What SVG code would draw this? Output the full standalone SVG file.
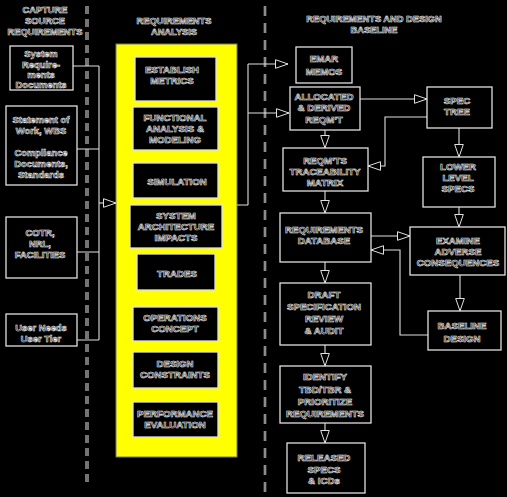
<svg xmlns="http://www.w3.org/2000/svg" width="507" height="497" viewBox="0 0 507 497">
<defs>
<style>
.t{font-family:"Liberation Sans",Arial,sans-serif;font-weight:bold;font-size:9.7px;fill:#000;stroke:#ececec;stroke-width:0.6px;text-anchor:middle}
.s{font-size:9.4px}
.h{font-size:9.3px}
.box{fill:#000;stroke:#e0e0e0;stroke-width:1.3}
.ln{fill:none;stroke:#e0e0e0;stroke-width:1.1}
.dash1{fill:none;stroke:#e8e8e8;stroke-width:3;stroke-dasharray:8 5}
.dash2{fill:none;stroke:#000;stroke-width:1;stroke-dasharray:8 5}
</style>
<marker id="ah" markerUnits="userSpaceOnUse" markerWidth="15" markerHeight="11" refX="13.5" refY="5.5" orient="auto">
<path d="M1,1.2 L13.5,5.5 L1,9.8 Z" fill="#000" stroke="#e0e0e0" stroke-width="1"/>
</marker>
</defs>
<rect x="0" y="0" width="507" height="497" fill="#000"/>

<g id="dividers">
<line class="dash1" x1="87" y1="6" x2="87" y2="482"/>
<line class="dash2" x1="87" y1="6" x2="87" y2="482"/>
<line class="dash1" x1="265" y1="6" x2="265" y2="492" style="stroke-width:2.4;stroke-dasharray:10 7"/>
<line class="dash2" x1="265" y1="6" x2="265" y2="492" style="stroke-width:0.8;stroke-dasharray:10 7"/>
</g>

<g id="headers">
<text class="t h" x="45" y="13">CAPTURE</text>
<text class="t h" x="45" y="24">SOURCE</text>
<text class="t h" x="45" y="35">REQUIREMENTS</text>
<text class="t h" x="174" y="24">REQUIREMENTS</text>
<text class="t h" x="174" y="35">ANALYSIS</text>
<text class="t h" x="374" y="22">REQUIREMENTS AND DESIGN</text>
<text class="t h" x="374" y="33">BASELINE</text>
</g>

<g id="yellow-panel">
<rect x="116" y="44" width="121" height="413" fill="#ffff00" stroke="#777" stroke-width="1"/>
</g>

<g id="connectors">
<path class="ln" d="M73,66 H99 M77,149 H99 M77,252 H99 M77,340 H99 M99,66 V340"/>
<path class="ln" d="M99,203 H116" marker-end="url(#ah)"/>
<path class="ln" d="M237,205 H248 M248,64 V205"/>
<path class="ln" d="M248,64 H288" marker-end="url(#ah)"/>
<path class="ln" d="M248,113 H289" marker-end="url(#ah)"/>
<path class="ln" d="M360,99 H427" marker-end="url(#ah)"/>
<path class="ln" d="M325,130 V148" marker-end="url(#ah)"/>
<path class="ln" d="M427,117 H385 V166 H368" marker-end="url(#ah)"/>
<path class="ln" d="M459,128 V157" marker-end="url(#ah)"/>
<path class="ln" d="M325,191 V213" marker-end="url(#ah)"/>
<path class="ln" d="M459,207 V227" marker-end="url(#ah)"/>
<path class="ln" d="M371,236 H410" marker-end="url(#ah)"/>
<path class="ln" d="M428,335 H400 V250 H371" marker-end="url(#ah)"/>
<path class="ln" d="M460,275 V311" marker-end="url(#ah)"/>
<path class="ln" d="M325,262 V283" marker-end="url(#ah)"/>
<path class="ln" d="M325,345 V366" marker-end="url(#ah)"/>
<path class="ln" d="M325,423 V443" marker-end="url(#ah)"/>
</g>

<g id="n-system-req">
<rect class="box" x="10" y="46" width="63" height="44"/>
<text class="t s" x="41" y="57">System</text>
<text class="t s" x="41" y="67.5">Require-</text>
<text class="t s" x="41" y="78">ments</text>
<text class="t s" x="41" y="88">Documents</text>
</g>
<g id="n-sow">
<rect class="box" x="6" y="106" width="71" height="79"/>
<text class="t s" x="41" y="123">Statement of</text>
<text class="t s" x="41" y="133.5">Work, WBS</text>
<text class="t s" x="41" y="156">Compliance</text>
<text class="t s" x="41" y="167">Documents,</text>
<text class="t s" x="41" y="178">Standards</text>
</g>
<g id="n-cotr">
<rect class="box" x="6" y="217" width="71" height="61"/>
<text class="t s" x="40" y="236">COTR,</text>
<text class="t s" x="40" y="247">NRL,</text>
<text class="t s" x="40" y="257.5">FACILITIES</text>
</g>
<g id="n-user">
<rect class="box" x="6" y="314" width="71" height="32"/>
<text class="t s" x="41" y="331">User Needs</text>
<text class="t s" x="41" y="342">User Tier</text>
</g>

<g id="n-metrics">
<rect class="box" x="135" y="57" width="81" height="44"/>
<text class="t" x="172" y="73">ESTABLISH</text>
<text class="t" x="172" y="84">METRICS</text>
</g>
<g id="n-functional">
<rect class="box" x="133" y="107" width="85" height="43"/>
<text class="t" x="175" y="121">FUNCTIONAL</text>
<text class="t" x="175" y="132">ANALYSIS &amp;</text>
<text class="t" x="175" y="143">MODELING</text>
</g>
<g id="n-simulation">
<rect class="box" x="133" y="163" width="85" height="35"/>
<text class="t" x="177" y="185">SIMULATION</text>
</g>
<g id="n-architecture">
<rect class="box" x="130" y="205" width="92" height="43"/>
<text class="t" x="176" y="219">SYSTEM</text>
<text class="t" x="176" y="230">ARCHITECTURE</text>
<text class="t" x="176" y="241">IMPACTS</text>
</g>
<g id="n-trades">
<rect class="box" x="137" y="254" width="78" height="36"/>
<text class="t" x="177" y="277">TRADES</text>
</g>
<g id="n-operations">
<rect class="box" x="133" y="307" width="85" height="34"/>
<text class="t" x="175" y="321">OPERATIONS</text>
<text class="t" x="175" y="332">CONCEPT</text>
</g>
<g id="n-constraints">
<rect class="box" x="133" y="352" width="85" height="36"/>
<text class="t" x="175" y="367">DESIGN</text>
<text class="t" x="175" y="378">CONSTRAINTS</text>
</g>
<g id="n-performance">
<rect class="box" x="133" y="402" width="85" height="35"/>
<text class="t" x="175" y="417">PERFORMANCE</text>
<text class="t" x="175" y="428">EVALUATION</text>
</g>

<g id="n-emar">
<rect class="box" x="296" y="47" width="56" height="36"/>
<text class="t" x="324" y="62">EMAR</text>
<text class="t" x="324" y="75">MEMOS</text>
</g>
<g id="n-allocated">
<rect class="box" x="290" y="87" width="70" height="43"/>
<text class="t" x="324" y="100">ALLOCATED</text>
<text class="t" x="324" y="111">&amp; DERIVED</text>
<text class="t" x="324" y="123">REQM'T</text>
</g>
<g id="n-spec-tree">
<rect class="box" x="427" y="87" width="65" height="41"/>
<text class="t" x="457" y="104">SPEC</text>
<text class="t" x="457" y="114.5">TREE</text>
</g>
<g id="n-traceability">
<rect class="box" x="283" y="148" width="85" height="43"/>
<text class="t" x="325" y="164">REQM'TS</text>
<text class="t" x="325" y="175">TRACEABILITY</text>
<text class="t" x="325" y="186">MATRIX</text>
</g>
<g id="n-lower-specs">
<rect class="box" x="423" y="157" width="72" height="50"/>
<text class="t" x="458" y="170">LOWER</text>
<text class="t" x="458" y="181">LEVEL</text>
<text class="t" x="458" y="192">SPECS</text>
</g>
<g id="n-database">
<rect class="box" x="280" y="213" width="91" height="49"/>
<text class="t" x="324" y="233">REQUIREMENTS</text>
<text class="t" x="324" y="244">DATABASE</text>
</g>
<g id="n-examine">
<rect class="box" x="410" y="227" width="95" height="48"/>
<text class="t" x="458" y="244">EXAMINE</text>
<text class="t" x="458" y="255">ADVERSE</text>
<text class="t" x="458" y="266">CONSEQUENCES</text>
</g>
<g id="n-draft">
<rect class="box" x="280" y="283" width="91" height="62"/>
<text class="t" x="324" y="298">DRAFT</text>
<text class="t" x="324" y="309.5">SPECIFICATION</text>
<text class="t" x="324" y="322">REVIEW</text>
<text class="t" x="324" y="334">&amp; AUDIT</text>
</g>
<g id="n-baseline">
<rect class="box" x="428" y="311" width="73" height="39"/>
<text class="t" x="462" y="329">BASELINE</text>
<text class="t" x="462" y="342">DESIGN</text>
</g>
<g id="n-identify">
<rect class="box" x="280" y="366" width="91" height="57"/>
<text class="t" x="325" y="380">IDENTIFY</text>
<text class="t" x="325" y="393">TBD/TBR &amp;</text>
<text class="t" x="325" y="405">PRIORITIZE</text>
<text class="t" x="325" y="417">REQUIREMENTS</text>
</g>
<g id="n-released">
<rect class="box" x="287" y="443" width="78" height="50"/>
<text class="t" x="324" y="461">RELEASED</text>
<text class="t" x="324" y="473">SPECS</text>
<text class="t" x="324" y="484">&amp; ICDs</text>
</g>
</svg>
